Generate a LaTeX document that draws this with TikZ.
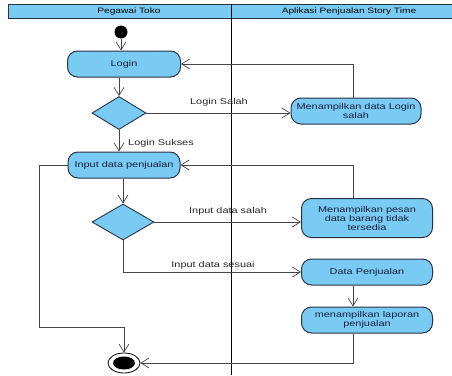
\documentclass[tikz,border=0pt]{standalone}
\usepackage{fontspec}
\setmainfont{Liberation Sans}[FakeStretch=1.3]
\usetikzlibrary{arrows.meta,shapes.geometric}
\definecolor{actfill}{RGB}{122,203,244}
\definecolor{actdraw}{RGB}{40,52,70}
\definecolor{flowc}{RGB}{70,70,70}
\definecolor{acttext}{RGB}{20,30,60}
\begin{document}
\begin{tikzpicture}[x=1pt,y=-1pt,
  act/.style={draw=actdraw, fill=actfill, rounded corners=10pt, line width=1pt, align=center,
    font=\fontsize{8.4}{9}\selectfont, text=acttext, inner sep=0pt},
  dec/.style={draw=actdraw, fill=actfill, diamond, line width=0.9pt, inner sep=0pt},
  flow/.style={draw=flowc, line width=0.7pt, -{Straight Barb[length=8pt,width=10pt]}},
  lbl/.style={font=\fontsize{8.4}{9}\selectfont, inner sep=1pt, text=black!85},
  lanehead/.style={font=\fontsize{7.8}{9}\selectfont, inner sep=0pt}]
\useasboundingbox (0,0) rectangle (452,375);
% swimlane header
\path[fill=actfill, draw=actdraw, line width=0.6pt] (8,4) rectangle (452,18);
\node[lanehead] (lane1) at (129,11) {Pegawai Toko};
\node[lanehead] (lane2) at (349,11) {Aplikasi Penjualan Story Time};
\draw[black, line width=1pt] (231,4) -- (231,375);
% nodes
\node[circle, fill=black, minimum size=13pt, inner sep=0pt] (start) at (121,32) {};
\node[act, minimum width=113pt, minimum height=26pt] (login) at (124,64) {Login};
\node[dec, minimum width=54pt, minimum height=33pt] (d1) at (119,113) {};
\node[act, minimum width=130pt, minimum height=26pt] (msg) at (356,111) {Menampilkan data Login\\salah};
\node[act, minimum width=112pt, minimum height=26pt] (input) at (124,165) {Input data penjualan};
\node[dec, minimum width=62pt, minimum height=36pt] (d2) at (123,222) {};
\node[act, minimum width=131pt, minimum height=39pt] (pesan) at (367,218) {Menampilkan pesan\\data barang tidak\\tersedia};
\node[act, minimum width=131pt, minimum height=26pt] (dp) at (367,272) {Data Penjualan};
\node[act, minimum width=131pt, minimum height=26pt] (lap) at (367,320) {menampilkan laporan\\penjualan};
\node[ellipse, draw=black, line width=0.8pt, fill=white, minimum width=32pt, minimum height=20pt, inner sep=0pt] (end) at (124,363) {};
\node[ellipse, fill=black, minimum width=22pt, minimum height=13pt, inner sep=0pt] (endin) at (end.center) {};
\coordinate (rx) at (353,0);
\coordinate (lb) at (39,327);
% connectors
\draw[flow] (start) -- (start |- login.north);
\draw[flow] (login.south -| d1.north) -- (d1.north);
\draw[flow] (d1.east) -- (d1.east -| msg.west);
\draw[flow] (msg.north -| rx) |- (login.east);
\draw[flow] (d1.south) -- (d1.south |- input.north);
\draw[flow] (input.south -| d2.north) -- (d2.north);
\draw[flow] (d2.east) -- (d2.east -| pesan.west);
\draw[flow] (pesan.north -| rx) |- (input.east);
\draw[flow] (d2.south) |- (dp.west);
\draw[flow] (dp.south -| rx) -- (lap.north -| rx);
\draw[flow] (lap.south -| rx) |- (end.east);
\draw[flow] (input.west) -| (lb) -| (end.north);
% labels
\node[lbl] (l1) at (219,102) {Login Salah};
\node[lbl, anchor=west] (l2) at (127,143) {Login Sukses};
\node[lbl] (l3) at (228,211) {Input data salah};
\node[lbl] (l4) at (213,265) {Input data sesuai};
\end{tikzpicture}
\end{document}
